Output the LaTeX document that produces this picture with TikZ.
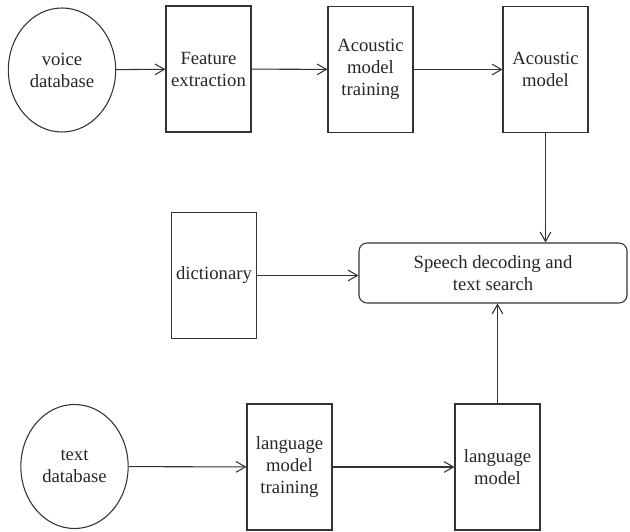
\documentclass[tikz,border=0pt]{standalone}
\usepackage{fontspec}
\setmainfont{Liberation Serif}
\usepackage{tikz}
\usetikzlibrary{arrows.meta,shapes.geometric}

\begin{document}
\begin{tikzpicture}[x=0.75pt,y=-0.75pt,
	every node/.style={font=\fontsize{14}{16.5}\selectfont, text=black!85, align=center},
	blockbox/.style={draw=black!80, line width=0.8pt, rectangle, inner sep=0pt, minimum width=63.75pt, minimum height=94.5pt},
	dbase/.style={draw=black!80, line width=0.8pt, ellipse, inner sep=0pt, minimum width=80.5pt, minimum height=93pt},
	flow/.style={draw=black!80, line width=0.8pt, -{Straight Barb[length=7pt,width=8pt,line width=0.8pt]}}]
	\useasboundingbox (0,0) rectangle (630,531);
	% top row
	\node[dbase] (voice) at (62,70) {voice\\database};
	\node[blockbox] (feat) at (208.5,69) {Feature\\extraction};
	\node[blockbox] (amtrain) at (370.5,69.5) {Acoustic\\model\\training};
	\node[blockbox] (amodel) at (545.5,69.5) {Acoustic\\model};
	% middle row
	\node[blockbox] (dict) at (214,275.5) {dictionary};
	\node[draw=black!80, line width=0.8pt, rounded corners=6pt, minimum width=201pt, minimum height=45pt, inner sep=0pt] (search) at (493,273) {Speech decoding and\\text search};
	% bottom row
	\node[dbase] (textdb) at (74.5,466.5) {text\\database};
	\node[blockbox] (lmtrain) at (289.5,467) {language\\model\\training};
	\node[blockbox] (lmodel) at (497.5,467) {language\\model};

	\draw[flow] (voice) -- (feat);
	\draw[flow] (feat) -- (amtrain);
	\draw[flow] (amtrain) -- (amodel);
	\draw[flow] (amodel.south) -- (amodel.south |- search.north);
	\draw[flow] (dict) -- (dict -| search.west);
	\draw[flow] (textdb) -- (lmtrain);
	\draw[flow] (lmtrain) -- (lmodel);
	\draw[flow] (lmodel.north) -- (lmodel.north |- search.south);
\end{tikzpicture}
\end{document}
